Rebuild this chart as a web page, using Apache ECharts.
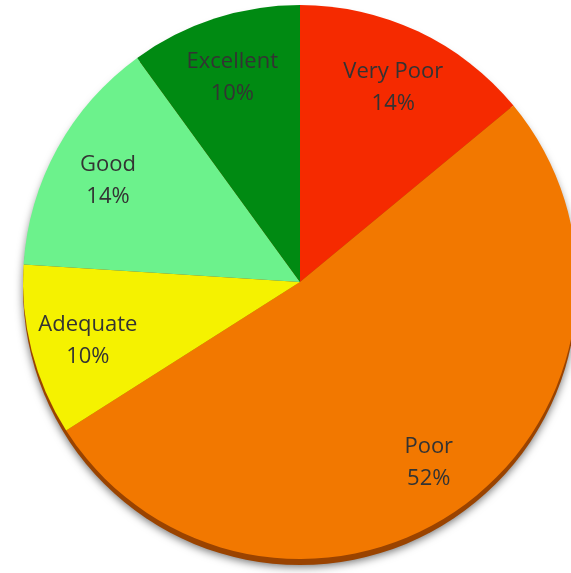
<!DOCTYPE html>
<html><head><meta charset="utf-8">
<style>html,body{margin:0;padding:0;background:#fff;}#c{width:571px;height:573px;}</style>
<script src="https://cdn.jsdelivr.net/npm/echarts@6/dist/echarts.min.js"></script>
</head><body><div id="c"></div>
<script>
const categories = ['Very Poor', 'Poor', 'Adequate', 'Good', 'Excellent'];
const values = [14, 52, 10, 14, 10];
const colors = ['#F52A00', '#F27800', '#F5F200', '#6CF28C', '#008A12'];

const chart = echarts.init(document.getElementById('c'), null, {renderer: 'canvas'});
const data = categories.map((c, i) => ({name: c, value: values[i], itemStyle: {color: colors[i]}}));
const center = [300, 282];
const R = 277;
chart.setOption({
  animation: false,
  series: [
    {
      type: 'pie', silent: true, center: [center[0], center[1] + 6], radius: [0, R],
      startAngle: 90, clockwise: true,
      data: [{value: 1, itemStyle: {color: '#9A4300', shadowBlur: 8, shadowColor: 'rgba(0,0,0,0.55)', shadowOffsetY: 2}}],
      label: {show: false}, labelLine: {show: false}
    },
    {
      type: 'pie', silent: true, center: center, radius: [0, R],
      startAngle: 90, clockwise: true, data: data,
      itemStyle: {borderWidth: 0},
      label: {show: false}, labelLine: {show: false}
    },
    {
      type: 'pie', silent: true, center: center, radius: [R * 0.56, R],
      startAngle: 90, clockwise: true,
      data: categories.map((c, i) => ({name: c, value: values[i]})),
      itemStyle: {color: 'rgba(0,0,0,0)'},
      label: {
        show: true, position: 'inside', offset: [0, 4],
        formatter: p => p.name + '\n' + Math.round(p.percent) + '%',
        color: '#333333', fontFamily: 'Open Sans', fontSize: 22, lineHeight: 32, align: 'center'
      },
      labelLine: {show: false}
    }
  ]
});
</script></body></html>
